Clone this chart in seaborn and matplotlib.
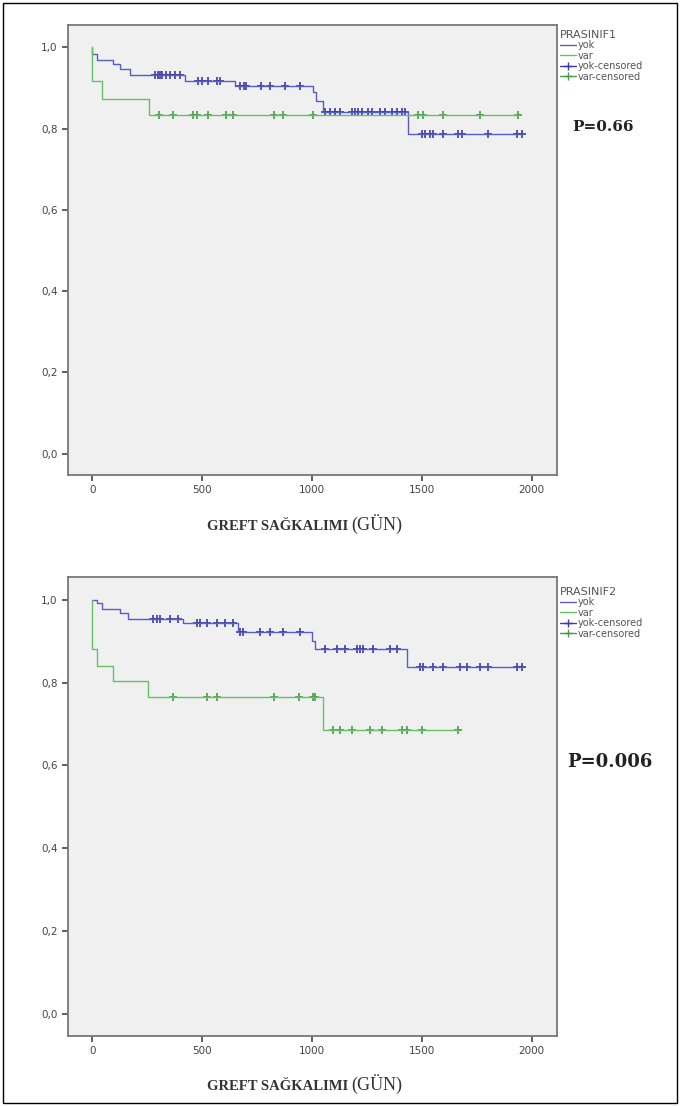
#!/usr/bin/env python
from matplotlib import pyplot as plt
from matplotlib.lines import Line2D
from matplotlib.patches import Rectangle
import pandas as pd
import seaborn as sns
import numpy as np

# PRASINIF1 - step points (days, survival) and censored times
p1_yok_t = [0, 0, 20, 95, 127, 173, 423, 650, 1005, 1020, 1050, 1436, 1955]
p1_yok_s = [1.0, 0.983, 0.97, 0.958, 0.946, 0.933, 0.918, 0.904, 0.89, 0.868, 0.84, 0.787, 0.787]
p1_yok_cens = [286, 300, 310, 318, 335, 355, 375, 400, 480, 500, 527, 568, 582,
               673, 690, 700, 770, 810, 877, 945, 1059, 1082, 1105, 1127, 1182,
               1195, 1209, 1227, 1255, 1273, 1309, 1332, 1364, 1386, 1409, 1423,
               1500, 1514, 1536, 1550, 1595, 1664, 1682, 1800, 1932, 1955]
p1_var_t = [0, 0, 45, 259, 1936]
p1_var_s = [1.0, 0.916, 0.874, 0.833, 0.833]
p1_var_cens = [305, 368, 459, 477, 527, 609, 641, 827, 868, 1005, 1482, 1505,
               1595, 1764, 1936]

# PRASINIF2
p2_yok_t = [0, 20, 45, 127, 164, 414, 664, 1000, 1014, 1432, 1955]
p2_yok_s = [1.0, 0.993, 0.978, 0.969, 0.954, 0.945, 0.923, 0.90, 0.88, 0.837, 0.837]
p2_yok_cens = [277, 295, 309, 355, 391, 477, 491, 523, 568, 605, 641, 673, 686,
               764, 809, 868, 945, 1059, 1114, 1150, 1205, 1218, 1232, 1277,
               1355, 1386, 1491, 1505, 1550, 1595, 1673, 1705, 1764, 1800,
               1932, 1955]
p2_var_t = [0, 0, 20, 95, 255, 1050, 1664]
p2_var_s = [1.0, 0.88, 0.84, 0.803, 0.765, 0.686, 0.686]
p2_var_cens = [368, 523, 568, 827, 941, 1005, 1014, 1095, 1127, 1182, 1264,
               1318, 1409, 1432, 1500, 1664]

x_ticks = [0, 500, 1000, 1500, 2000]
y_ticks = [0.0, 0.2, 0.4, 0.6, 0.8, 1.0]
y_labels = ["0,0", "0,2", "0,4", "0,6", "0,8", "1,0"]

blue, blue_dark = "#5a5ad0", "#3a3aa8"
green, green_dark = "#66c066", "#4a9a4a"

sns.set_style("ticks")
plt.rcParams['font.family'] = ['DejaVu Sans']

fig = plt.figure(figsize=(6.8, 11.06), dpi=100)
fig.patches.append(Rectangle((0.004, 0.003), 0.992, 0.994, transform=fig.transFigure,
                             fill=False, edgecolor="black", linewidth=1))


def surv_at(t_steps, s_steps, times):
    idx = np.searchsorted(np.array(t_steps), np.array(times), side="right") - 1
    return np.array(s_steps)[idx]


def km_panel(ax, curves):
    for t, s, cens, col, col_d in curves:
        df = pd.DataFrame({"t": t, "s": s})
        sns.lineplot(data=df, x="t", y="s", ax=ax, color=col, linewidth=1,
                     drawstyle="steps-post", estimator=None, sort=False)
        dc = pd.DataFrame({"t": cens, "s": surv_at(t, s, cens)})
        sns.scatterplot(data=dc, x="t", y="s", ax=ax, marker="+", color=col_d,
                        s=34, linewidth=1.2)
    ax.set_facecolor("#f0f0f0")
    ax.set_xlim(-110, 2115)
    ax.set_ylim(-0.053, 1.055)
    ax.set_xticks(x_ticks)
    ax.set_yticks(y_ticks)
    ax.set_yticklabels(y_labels)
    ax.tick_params(labelsize=7.5, colors="#444444", length=4, width=1.2)
    for sp in ax.spines.values():
        sp.set_color("#777777")
        sp.set_linewidth(1.3)
    ax.set_xlabel("")
    ax.set_ylabel("")


ax1 = fig.add_axes([0.1, 0.5705, 0.719, 0.4069])
km_panel(ax1, [(p1_yok_t, p1_yok_s, p1_yok_cens, blue, blue_dark),
               (p1_var_t, p1_var_s, p1_var_cens, green, green_dark)])
ax2 = fig.add_axes([0.1, 0.0633, 0.719, 0.415])
km_panel(ax2, [(p2_yok_t, p2_yok_s, p2_yok_cens, blue, blue_dark),
               (p2_var_t, p2_var_s, p2_var_cens, green, green_dark)])

handles = [Line2D([], [], color=blue, lw=1),
           Line2D([], [], color=green, lw=1),
           Line2D([], [], color=blue_dark, lw=1, marker="+", markersize=6),
           Line2D([], [], color=green_dark, lw=1, marker="+", markersize=6)]
labels = ["yok", "var", "yok-censored", "var-censored"]

for title, ytop in [("PRASINIF1", 1 - 26 / 1106), ("PRASINIF2", 1 - 583 / 1106)]:
    leg = fig.legend(handles, labels, title=title, loc="upper left",
                     bbox_to_anchor=(0.818, ytop), frameon=False, fontsize=7,
                     title_fontsize=8, handlelength=1.6, handletextpad=0.2,
                     labelspacing=0.05, borderaxespad=0, alignment="left")
    for txt in leg.get_texts():
        txt.set_color("#555555")
    leg.get_title().set_color("#555555")

fig.text(572 / 680, 1 - 127 / 1106, "P=0.66", family="DejaVu Serif",
         fontsize=11, fontweight="bold", color="#222222", va="center")
fig.text(567 / 680, 1 - 762 / 1106, "P=0.006", family="DejaVu Serif",
         fontsize=13, fontweight="bold", color="#222222", va="center")

for yy in [1 - 530 / 1106, 1 - 1090 / 1106]:
    fig.text(348 / 680, yy, "GREFT SAĞKALIMI", family="Liberation Serif",
             fontsize=10.5, fontweight="bold", color="#333333", ha="right",
             va="baseline")
    fig.text(351 / 680, yy, "(GÜN)", family="Liberation Serif",
             fontsize=13, color="#333333", ha="left", va="baseline")

fig.savefig("out.png", dpi=100)
